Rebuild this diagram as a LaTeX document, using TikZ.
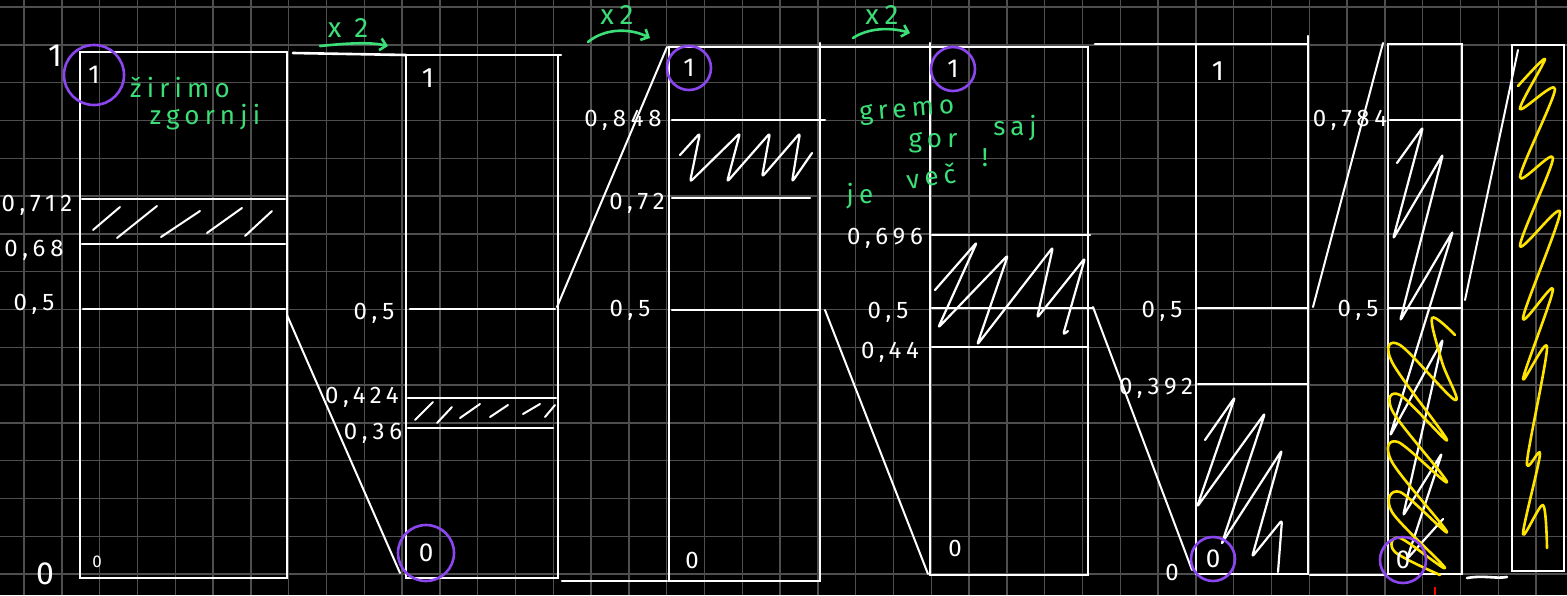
\documentclass[tikz,border=0pt]{standalone}
\usepackage{fontspec}
\setmainfont{Fira Sans}
\newfontfamily\hand[LetterSpace=20]{Fira Sans}
\usetikzlibrary{arrows.meta}
\definecolor{gridc}{RGB}{78,78,78}
\definecolor{grn}{RGB}{60,222,120}
\definecolor{purp}{RGB}{140,70,240}
\definecolor{yel}{RGB}{255,228,0}
\tikzset{
  gridline/.style={draw=gridc,line width=1.4pt},
  wl/.style={draw=white,line width=2.6pt,line cap=round},
  thin wl/.style={draw=white,line width=2pt,line cap=round},
  scrib/.style={draw=white,line width=2.2pt,line cap=round,line join=round,rounded corners=3pt},
  yscrib/.style={draw=yel,line width=2.6pt,line cap=round,line join=round},
  lbl/.style={text=white,inner sep=0pt,font=\hand\fontsize{24}{24}\selectfont},
  biglbl/.style={text=white,inner sep=0pt,font=\hand\fontsize{32}{32}\selectfont},
  gtxt/.style={text=grn,inner sep=0pt,font=\hand\fontsize{26}{26}\selectfont},
  circ/.style={circle,draw=purp,line width=2.6pt,inner sep=0pt,text=white,font=\hand\fontsize{26}{26}\selectfont},
  garrow/.style={draw=grn,line width=2.6pt,line cap=round,-{Straight Barb[length=6pt,width=12pt,line width=2.6pt]}}
}
\begin{document}
\begin{tikzpicture}[x=1pt,y=-1pt]
\useasboundingbox (0,0) rectangle (1567,595);
\fill[black] (0,0) rectangle (1567,595);
% grid
\foreach \i in {0,...,40} {\draw[gridline] ({24+37.8*\i},0) -- ({24+37.8*\i},595);}
\foreach \j in {0,...,15} {\draw[gridline] (0,{7+37.8*\j}) -- (1567,{7+37.8*\j});}

% ---------- coordinates ----------
\coordinate (b1tl) at (80,52);  \coordinate (b1br) at (287,578);
\coordinate (b1h5) at (287,315);
\coordinate (b2tl) at (406,55); \coordinate (b2br) at (558,578);
\coordinate (b2bl) at (400,573); \coordinate (b2h5) at (557,307);
\coordinate (b3tl) at (669,47); \coordinate (b3br) at (820,581);
\coordinate (b3top) at (667,47); \coordinate (b3h5) at (825,310);
\coordinate (b4tl) at (930,47); \coordinate (b4br) at (1088,575);
\coordinate (b4bl) at (928,574); \coordinate (b4h5) at (1093,307);
\coordinate (b5tl) at (1196,44); \coordinate (b5br) at (1308,574);
\coordinate (b5bl) at (1192,570); \coordinate (b5h5) at (1313,307);
\coordinate (b6tl) at (1388,44); \coordinate (b6br) at (1462,574);
\coordinate (b6top) at (1383,43); \coordinate (b6h5) at (1465,300);
\coordinate (b7tl) at (1512,45); \coordinate (b7br) at (1564,571);
\coordinate (b7top) at (1518,50);

% ---------- boxes ----------
\draw[wl] (b1tl) rectangle (b1br);
\draw[wl] (82,199) -- (285,199);
\draw[wl] (82,244) -- (285,244);
\draw[wl] (83,309) -- (285,309);

\draw[wl] (b2tl) rectangle (b2br);
\draw[wl] (558,55) -- (561,55);
\draw[wl] (410,309) -- (555,309);
\draw[wl] (408,398) -- (556,398);
\draw[wl] (408,428) -- (553,428);

\draw[wl] (b3tl) rectangle (b3br);
\draw[wl] (820,43) -- (820,47);
\draw[wl] (672,120) -- (825,120);
\draw[wl] (672,198) -- (810,198);
\draw[wl] (672,310) -- (820,310);

\draw[wl] (b4tl) rectangle (b4br);
\draw[wl] (930,43) -- (930,47);
\draw[wl] (932,235) -- (1090,235);
\draw[wl] (932,308) -- (1093,308);
\draw[wl] (932,347) -- (1088,347);

\draw[wl] (b5tl) rectangle (b5br);
\draw[wl] (1308,36) -- (1308,44);
\draw[wl] (1198,308) -- (1308,308);
\draw[wl] (1198,384) -- (1308,384);

\draw[wl] (b6tl) rectangle (b6br);
\draw[wl] (1390,120) -- (1462,120);
\draw[wl] (1388,308) -- (1462,308);

\draw[wl] (b7tl) rectangle (b7br);

% ---------- connectors ----------
\draw[wl] (293,53) -- (b2tl);
\draw[thin wl] (b1h5) -- (b2bl);
\draw[thin wl] (b2h5) -- (b3top);
\draw[wl] (562,581) -- (667,581);
\draw[wl] (820,47) -- (b4tl);
\draw[thin wl] (b3h5) -- (b4bl);
\draw[wl] (1095,44) -- (1196,44);
\draw[thin wl] (b4h5) -- (b5bl);
\draw[thin wl] (b5h5) -- (b6top);
\draw[wl] (1310,575) -- (1387,575);
\draw[thin wl] (b6h5) -- (b7top);
\draw[wl] (1467,578) .. controls (1485,575) and (1495,579) .. (1507,577);
\draw[draw=red,line width=1.5pt] (1435,587) -- (1435,595);

% ---------- hatching ----------
\draw[thin wl] (93,230) -- (120,207);
\draw[thin wl] (117,238) -- (157,206);
\draw[thin wl] (161,237) -- (200,211);
\draw[thin wl] (207,233) -- (242,208);
\draw[thin wl] (245,236) -- (272,211);

\draw[thin wl] (415,420) -- (433,402);
\draw[thin wl] (437,423) -- (452,407);
\draw[thin wl] (460,418) -- (480,404);
\draw[thin wl] (490,417) -- (508,405);
\draw[thin wl] (523,414) -- (540,404);
\draw[thin wl] (545,417) -- (555,405);

\draw[scrib] (680,155) -- (700,133) -- (690,182) -- (740,133) -- (727,182) -- (770,133) -- (762,177) -- (800,133) -- (792,182) -- (812,153);

\draw[scrib] (935,290) -- (977,242) -- (938,328) -- (1008,255) -- (977,345) -- (1053,247) -- (1037,318) -- (1085,258) -- (1063,335) -- (1068,331);

\draw[scrib] (1205,440) -- (1235,397) -- (1197,507) -- (1265,413) -- (1222,543);
\draw[scrib] (1222,543) -- (1282,450) -- (1252,557) -- (1282,520) -- (1278,572);

\draw[scrib] (1397,163) -- (1423,127) -- (1393,239) -- (1443,154) -- (1400,321) -- (1453,231) -- (1390,436) -- (1443,339) -- (1403,516) -- (1442,453) -- (1407,559) -- (1443,519);

\draw[yscrib] plot[smooth,tension=0.6] coordinates {(1455,335) (1432,318) (1442,362) (1455,400) (1400,345) (1392,362) (1447,440) (1400,395) (1393,412) (1447,482) (1398,442) (1392,462) (1447,532) (1400,492) (1392,512) (1445,568) (1400,538) (1395,552) (1440,575)};

\draw[yscrib] plot[smooth,tension=0.5] coordinates {(1518,86) (1545,59) (1520,109) (1555,89) (1520,177) (1553,158) (1520,246) (1560,212) (1523,318) (1553,289) (1523,379) (1547,347) (1527,462) (1540,454) (1523,534) (1543,505) (1547,548)};

% ---------- labels ----------
\node[biglbl] (one) at (55,56) {1};
\node[biglbl] (zero) at (45,574) {0};
\node[lbl] (l712) at (37,205) {0,712};
\node[lbl] (l68) at (34,250) {0,68};
\node[lbl] (l5a) at (34,304) {0,5};
\node[lbl] (z1) at (97,562) {\fontsize{17}{17}\selectfont 0};

\node[lbl] (l5b) at (374,313) {0,5};
\node[lbl] (l424) at (362,397) {0,424};
\node[lbl] (l36) at (373,433) {0,36};
\node[lbl,font=\hand\fontsize{28}{28}\selectfont] (o2) at (428,78) {1};

\node[lbl] (l848) at (623,120) {0,848};
\node[lbl] (l72) at (637,203) {0,72};
\node[lbl] (l5c) at (630,310) {0,5};
\node[lbl] (z3) at (692,560) {0};

\node[lbl] (l696) at (885,238) {0,696};
\node[lbl] (l5d) at (888,312) {0,5};
\node[lbl] (l44) at (890,352) {0,44};
\node[lbl] (z4) at (955,548) {0};

\node[lbl,font=\hand\fontsize{28}{28}\selectfont] (o5) at (1218,71) {1};
\node[lbl] (l5e) at (1162,311) {0,5};
\node[lbl] (l392) at (1156,388) {0,392};
\node[lbl] (z5) at (1172,572) {0};

\node[lbl] (l784) at (1350,120) {0,784};
\node[lbl] (l5f) at (1358,310) {0,5};

% ---------- circles ----------
\node[circ,minimum size=60pt] (c1) at (94,75) {1};
\node[circ,minimum size=56pt] (c2) at (426,553) {0};
\node[circ,minimum size=44pt] (c3) at (689,68) {1};
\node[circ,minimum size=44pt] (c4) at (953,69) {1};
\node[circ,minimum size=44pt] (c5) at (1213,559) {0};
\node[circ,minimum size=46pt] (c6) at (1403,560) {0};

% ---------- green notes ----------
\node[gtxt] (t1) at (180,87) {žirimo};
\node[gtxt] (t2) at (205,117) {zgornji};
\node[gtxt,rotate=5] (t3) at (907,112) {gremo};
\node[gtxt] (t4) at (933,143) {gor};
\node[gtxt] (t5) at (1015,128) {saj};
\node[gtxt] (t6) at (860,196) {je};
\node[gtxt,rotate=8] (t7) at (931,176) {več};
\node[gtxt] (t8) at (985,158) {!};

\node[gtxt,font=\hand\fontsize{28}{28}\selectfont] (x1) at (348,28) {x 2};
\draw[garrow] (320,46) .. controls (350,43) and (370,42) .. (388,46);
\node[gtxt,font=\hand\fontsize{28}{28}\selectfont] (x2) at (617,15) {x2};
\draw[garrow] (588,42) .. controls (605,28) and (630,28) .. (650,38);
\node[gtxt,font=\hand\fontsize{28}{28}\selectfont] (x3) at (882,15) {x2};
\draw[garrow] (853,38) .. controls (868,28) and (890,27) .. (910,33);
\end{tikzpicture}
\end{document}
